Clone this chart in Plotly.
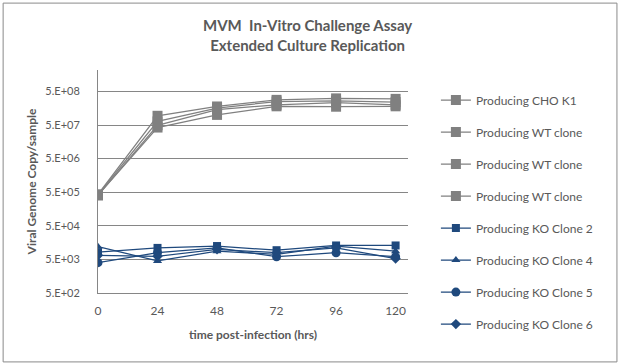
import plotly.graph_objects as go

time_hrs = [0, 24, 48, 72, 96, 120]

cho_k1 = [4.3e5, 9.4e7, 1.78e8, 2.8e8, 3.1e8, 3.0e8]
wt_clone_a = [4.2e5, 6.4e7, 1.6e8, 2.5e8, 2.6e8, 2.4e8]
wt_clone_b = [4.0e5, 4.9e7, 1.43e8, 2.0e8, 2.3e8, 2.0e8]
wt_clone_c = [4.1e5, 4.2e7, 1.0e8, 1.8e8, 1.75e8, 1.8e8]

ko_clone2 = [8.2e3, 1.1e4, 1.25e4, 9.4e3, 1.3e4, 1.3e4]
ko_clone4 = [1.2e4, 4.5e3, 8.8e3, 7.0e3, 1.25e4, 8.8e3]
ko_clone5 = [4.0e3, 7.9e3, 1.1e4, 6.0e3, 7.9e3, 6.0e3]
ko_clone6 = [6.6e3, 6.2e3, 1.0e4, 7.9e3, 1.1e4, 5.3e3]

series_names = ["Producing CHO K1", "Producing WT clone", "Producing WT clone",
                "Producing WT clone", "Producing KO Clone 2", "Producing KO Clone 4",
                "Producing KO Clone 5", "Producing KO Clone 6"]

y_tick_vals = [5e2, 5e3, 5e4, 5e5, 5e6, 5e7, 5e8]
y_tick_text = ["5.E+02", "5.E+03", "5.E+04", "5.E+05", "5.E+06", "5.E+07", "5.E+08"]
x_tick_vals = [0, 24, 48, 72, 96, 120]

GRAY = "#808080"
BLUE = "#1F497D"
FONT = "Lato, 'Open Sans', sans-serif"
TXT = "#595959"

series = [
    (cho_k1, GRAY, "square", 10),
    (wt_clone_a, GRAY, "square", 10),
    (wt_clone_b, GRAY, "square", 10),
    (wt_clone_c, GRAY, "square", 10),
    (ko_clone2, BLUE, "square", 8),
    (ko_clone4, BLUE, "triangle-up", 8),
    (ko_clone5, BLUE, "circle", 9),
    (ko_clone6, BLUE, "diamond", 8),
]

fig = go.Figure()
for i, (vals, col, sym, sz) in enumerate(series):
    fig.add_trace(go.Scatter(
        x=time_hrs, y=vals, name=series_names[i], mode="lines+markers",
        line=dict(color=col, width=1.25),
        marker=dict(color=col, symbol=sym, size=sz),
        legendgroup="g%d" % i,
    ))

fig.update_layout(
    width=621, height=364,
    margin=dict(l=98, r=213, t=70, b=71),
    paper_bgcolor="white", plot_bgcolor="white",
    font=dict(family=FONT, color=TXT, size=12),
    showlegend=True,
    legend=dict(x=1.09, y=0.93, xanchor="left", yanchor="top",
                font=dict(size=12, color=TXT, family=FONT),
                tracegroupgap=13, bgcolor="rgba(0,0,0,0)", maxheight=360),
    xaxis=dict(range=[0, 125], tickvals=x_tick_vals, showgrid=False, automargin=False,
               showline=True, linecolor="#868686", linewidth=1, zeroline=False,
               tickfont=dict(size=12, color=TXT), ticks="", ticklabelstandoff=7,
               title=dict(text="<b>time post-infection (hrs)</b>",
                          font=dict(size=12, color=TXT), standoff=13)),
    yaxis=dict(type="log", range=[2.699, 9.336], tickvals=y_tick_vals, ticktext=y_tick_text,
               showgrid=True, gridcolor="#868686", gridwidth=1, automargin=False,
               showline=True, linecolor="#868686", linewidth=1, zeroline=False,
               tickfont=dict(size=11, color=TXT), ticks="", ticklabelstandoff=15,
               title=dict(text="<b>Viral Genome Copy/sample</b>",
                          font=dict(size=12, color=TXT), standoff=6)),
    annotations=[dict(
        text="<b>MVM  In-Vitro Challenge Assay<br>Extended Culture Replication</b>",
        xref="paper", yref="paper", x=0.677, y=1.158, xanchor="center", yanchor="middle",
        showarrow=False, font=dict(size=15, color=TXT, family=FONT))],
    shapes=[dict(type="rect", xref="paper", yref="paper",
                 x0=-0.306, x1=1.674, y0=-0.309, y1=1.300,
                 line=dict(color="#8a8a8a", width=1), fillcolor="rgba(0,0,0,0)",
                 layer="below")],
)

fig.write_html("out.html", config={"displayModeBar": False},
               post_script="document.body.style.margin='0';")
